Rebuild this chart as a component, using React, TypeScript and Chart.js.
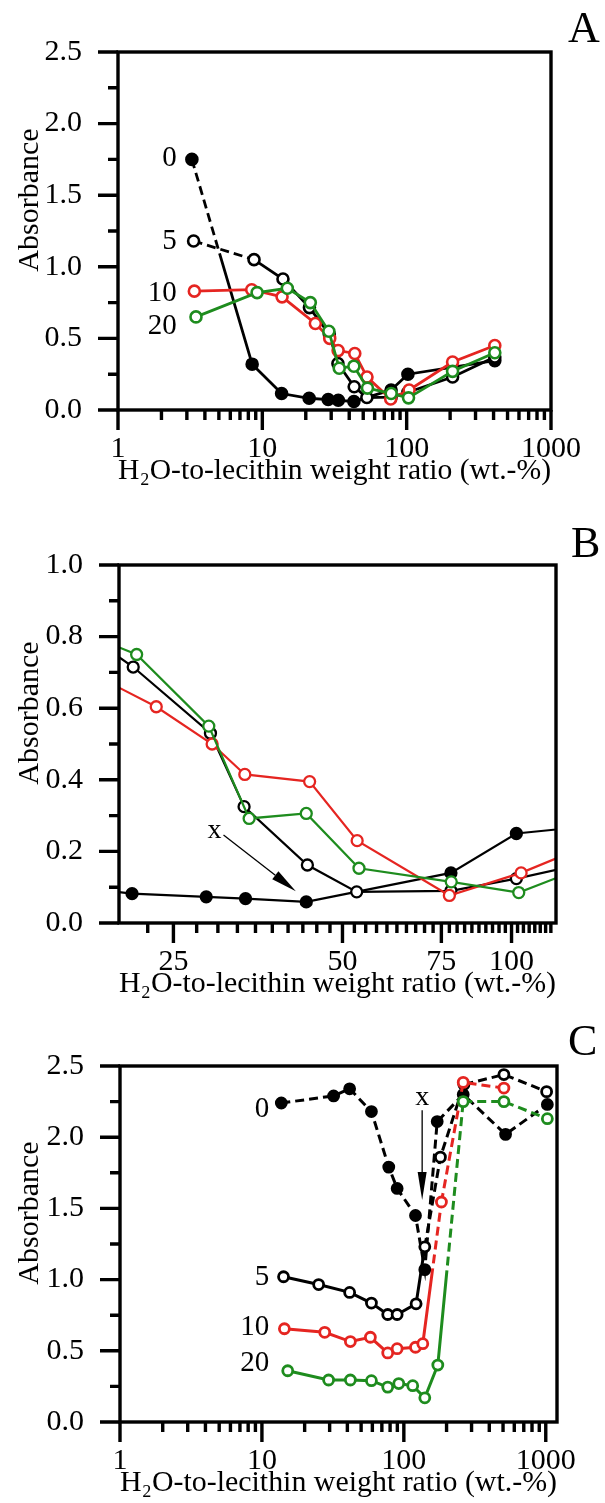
import React, { useEffect, useRef } from 'react';
import { Chart, registerables } from 'chart.js';

Chart.register(...registerables);

const FONT = '"Liberation Serif", "Times New Roman", Times, serif';
const INK = '#000000';
const RED = '#e52521';
const GREEN = '#1e8c1e';

const X_TITLE = 'H\u2082O-to-lecithin weight ratio (wt.-%)';
const Y_TITLE = 'Absorbance';
const SERIES_NAMES = ['0', '5', '10', '20'];

// ---- Panels A and B (B is the 20–120 range of the same measurements) ----
const AB_S0_X = [3.25, 8.5, 13.6, 21.1, 28.6, 33.6, 43.1, 78, 102, 408];
const AB_S0_Y = [1.75, 0.32, 0.115, 0.082, 0.073, 0.068, 0.059, 0.14, 0.25, 0.345];
const AB_S5_X = [3.34, 8.76, 13.9, 21.2, 29.1, 33.4, 43.3, 53, 78, 102, 208, 408];
const AB_S5_Y = [1.18, 1.05, 0.915, 0.715, 0.53, 0.325, 0.162, 0.087, 0.09, 0.124, 0.23, 0.37];
const AB_S10_X = [3.38, 8.44, 13.7, 23.3, 29.3, 33.5, 43.7, 53.1, 77.5, 104, 208, 408];
const AB_S10_Y = [0.83, 0.84, 0.79, 0.604, 0.5, 0.415, 0.395, 0.23, 0.077, 0.14, 0.335, 0.45];
const AB_S20_X = [3.47, 9.2, 14.9, 21.5, 28.9, 34.1, 43.1, 53.5, 78.1, 103, 208, 408];
const AB_S20_Y = [0.65, 0.82, 0.85, 0.75, 0.55, 0.292, 0.306, 0.153, 0.115, 0.085, 0.27, 0.4];

// ---- Panel C ----
const C_S0_X = [13.7, 32.0, 41.5, 59.1, 78.3, 89.7, 120.8, 140.5, 171.8, 262, 521, 1026];
const C_S0_Y = [2.24, 2.29, 2.34, 2.18, 1.79, 1.64, 1.45, 1.07, 2.11, 2.3, 2.02, 2.23];
const C_S5_X = [14.2, 25.1, 41.5, 59.1, 77.0, 89.7, 122, 140.5, 181, 265, 507, 1014];
const C_S5_Y = [1.02, 0.965, 0.91, 0.835, 0.755, 0.755, 0.83, 1.23, 1.86, 2.37, 2.44, 2.32];
const C_S10_X = [14.4, 27.7, 42.0, 58.1, 77.0, 89.7, 120.8, 136, 184, 262, 507];
const C_S10_Y = [0.655, 0.63, 0.565, 0.595, 0.485, 0.515, 0.525, 0.55, 1.545, 2.385, 2.345];
const C_S20_X = [15.2, 29.5, 42.0, 59.1, 77.0, 92.1, 115.5, 140.5, 173.5, 262, 507, 1026];
const C_S20_Y = [0.36, 0.295, 0.295, 0.29, 0.245, 0.27, 0.255, 0.17, 0.4, 2.25, 2.25, 2.13];

// ---- Tick values ----
const LOG_X_MAJOR = [1, 10, 100, 1000];
const LOG_X_MINOR = [2, 3, 4, 5, 6, 7, 8, 9, 20, 30, 40, 50, 60, 70, 80, 90, 200, 300, 400, 500, 600, 700, 800, 900];
const B_X_MAJOR = [25, 50, 75, 100];
const B_X_MINOR = [22.5, 27.5, 30, 32.5, 35, 37.5, 40, 42.5, 45, 47.5, 52.5, 55, 57.5, 60, 62.5, 65, 67.5, 70, 72.5,
  77.5, 80, 82.5, 85, 87.5, 90, 92.5, 95, 97.5, 102.5, 105, 107.5, 110, 112.5, 115, 117.5];
const AC_Y_MAJOR = [0, 0.5, 1.0, 1.5, 2.0, 2.5];
const AC_Y_MINOR = [0.25, 0.75, 1.25, 1.75, 2.25];
const B_Y_MAJOR = [0, 0.2, 0.4, 0.6, 0.8, 1.0];
const B_Y_MINOR = [0.1, 0.3, 0.5, 0.7, 0.9];

// ---- line dash styles ----
const SOLID: number[] = [];
const DASH = [9, 5];
const DASH_THEN_SOLID = [9, 5, 9, 5, 9, 5, 9, 5, 9, 5, 9, 5, 9, 5, 800, 0];
const SOLID_THEN_DASH_R = [76, 5, 9, 5, 9, 5, 9, 5, 9, 5, 9, 5, 9, 5, 9, 5, 9, 5];
const SOLID_THEN_DASH_G = [95, 5, 9, 5, 9, 5, 9, 5, 9, 5, 9, 5, 9, 5, 9, 5, 9, 5, 9, 5, 9, 5, 9, 5, 9, 5, 9, 5, 9, 5, 9, 5, 9, 5];

const zip = (xs: number[], ys: number[]) => xs.map((x, i) => ({ x, y: ys[i] }));

const framePlugin = {
  id: 'frame',
  afterDraw(chart: any, _args: any, opts: any) {
    const { ctx, chartArea: a, scales } = chart;
    const xs = scales.x;
    const ys = scales.y;
    ctx.save();
    // ticks
    ctx.strokeStyle = INK;
    ctx.lineWidth = 3.4;
    ctx.lineCap = 'butt';
    ctx.beginPath();
    for (const v of opts.xMajor) {
      const p = xs.getPixelForValue(v);
      ctx.moveTo(p, a.bottom);
      ctx.lineTo(p, a.bottom + 20);
    }
    for (const v of opts.xMinor) {
      const p = xs.getPixelForValue(v);
      ctx.moveTo(p, a.bottom);
      ctx.lineTo(p, a.bottom + 10);
    }
    for (const v of opts.yMajor) {
      const p = ys.getPixelForValue(v);
      ctx.moveTo(a.left - 20, p);
      ctx.lineTo(a.left, p);
    }
    for (const v of opts.yMinor) {
      const p = ys.getPixelForValue(v);
      ctx.moveTo(a.left - 10, p);
      ctx.lineTo(a.left, p);
    }
    ctx.stroke();
    // box
    ctx.lineJoin = 'miter';
    ctx.strokeRect(a.left, a.top, a.right - a.left, a.bottom - a.top);

    // y title
    ctx.fillStyle = INK;
    ctx.save();
    ctx.translate(38, (a.top + a.bottom) / 2 - 31);
    ctx.rotate(-Math.PI / 2);
    ctx.font = `30px ${FONT}`;
    ctx.textAlign = 'center';
    ctx.textBaseline = 'alphabetic';
    ctx.fillText(Y_TITLE, 0, 0);
    ctx.restore();

    // panel letter
    ctx.font = `44px ${FONT}`;
    ctx.textAlign = 'left';
    ctx.textBaseline = 'alphabetic';
    ctx.fillText(opts.letter, opts.letterX, opts.letterY);

    // series labels
    ctx.font = `29px ${FONT}`;
    ctx.textAlign = 'right';
    ctx.textBaseline = 'middle';
    for (const l of opts.labels) {
      ctx.fillText(l.text, xs.getPixelForValue(l.x), ys.getPixelForValue(l.y));
    }

    // arrow
    if (opts.arrow) {
      const ar = opts.arrow;
      const x0 = xs.getPixelForValue(ar.fromX);
      const y0 = ys.getPixelForValue(ar.fromY);
      const x1 = xs.getPixelForValue(ar.toX);
      const y1 = ys.getPixelForValue(ar.toY);
      const len = Math.hypot(x1 - x0, y1 - y0);
      const ux = (x1 - x0) / len;
      const uy = (y1 - y0) / len;
      const bx = x1 - ux * ar.head;
      const by = y1 - uy * ar.head;
      ctx.lineWidth = 1.3;
      ctx.beginPath();
      ctx.moveTo(x0, y0);
      ctx.lineTo(bx, by);
      ctx.stroke();
      ctx.beginPath();
      ctx.moveTo(x1, y1);
      ctx.lineTo(bx - uy * ar.half, by + ux * ar.half);
      ctx.lineTo(bx + uy * ar.half, by - ux * ar.half);
      ctx.closePath();
      ctx.fill();
      ctx.font = `28px ${FONT}`;
      ctx.textAlign = 'center';
      ctx.textBaseline = 'middle';
      ctx.fillText(ar.text, xs.getPixelForValue(ar.textX), ys.getPixelForValue(ar.textY));
    }
    ctx.restore();
  },
};

type SeriesSpec = {
  name: string;
  xs: number[];
  ys: number[];
  color: string;
  filled: boolean;
  dashDefault: number[];
  dashBySeg: Record<number, number[]>;
};

function buildConfig(p: any) {
  const datasets = p.series.map((s: SeriesSpec) => ({
    label: s.name,
    data: zip(s.xs, s.ys),
    borderColor: s.color,
    borderWidth: p.lineWidth,
    pointRadius: p.pointRadius,
    pointBorderWidth: p.pointBorderWidth,
    pointBorderColor: s.color,
    pointBackgroundColor: s.filled ? s.color : '#ffffff',
    pointStyle: 'circle',
    tension: 0,
    fill: false,
    clip: p.clip,
    segment: {
      borderDash: (ctx: any) => {
        const d = s.dashBySeg[ctx.p0DataIndex];
        return d !== undefined ? d : s.dashDefault;
      },
    },
  }));
  const xh = p.height - p.box.bottom;
  return {
    type: 'line',
    data: { datasets },
    options: {
      responsive: false,
      animation: false,
      events: [],
      layout: { padding: { top: p.box.top, right: 605 - p.box.right, left: 0, bottom: 0 } },
      plugins: {
        legend: { display: false },
        tooltip: { enabled: false },
        frame: p.frame,
      },
      scales: {
        x: {
          type: 'logarithmic',
          position: 'bottom',
          min: p.xMin,
          max: p.xMax,
          grid: { display: false, drawTicks: false },
          border: { display: false },
          afterBuildTicks: (s: any) => {
            s.ticks = p.frame.xMajor.map((v: number) => ({ value: v }));
          },
          ticks: {
            autoSkip: false,
            maxRotation: 0,
            minRotation: 0,
            padding: 24,
            color: INK,
            font: { family: FONT, size: 30, lineHeight: 1 },
            callback: (v: any) => String(v),
          },
          title: {
            display: true,
            text: X_TITLE,
            color: INK,
            font: { family: FONT, size: 30, lineHeight: 1 },
            padding: { top: 0, bottom: xh - 76 },
          },
          afterFit: (s: any) => {
            s.height = xh;
          },
        },
        y: {
          type: 'linear',
          min: p.yMin,
          max: p.yMax,
          grid: { display: false, drawTicks: false },
          border: { display: false },
          afterBuildTicks: (s: any) => {
            s.ticks = p.frame.yMajor.map((v: number) => ({ value: v }));
          },
          ticks: {
            autoSkip: false,
            padding: 36,
            color: INK,
            font: { family: FONT, size: 30, lineHeight: 1 },
            callback: (v: any) => Number(v).toFixed(1),
          },
          afterFit: (s: any) => {
            s.width = p.box.left;
          },
        },
      },
    },
    plugins: [framePlugin],
  };
}

const AB_SERIES = (): SeriesSpec[] => [
  { name: SERIES_NAMES[3], xs: AB_S20_X, ys: AB_S20_Y, color: GREEN, filled: false, dashDefault: SOLID, dashBySeg: {} },
  { name: SERIES_NAMES[2], xs: AB_S10_X, ys: AB_S10_Y, color: RED, filled: false, dashDefault: SOLID, dashBySeg: {} },
  { name: SERIES_NAMES[1], xs: AB_S5_X, ys: AB_S5_Y, color: INK, filled: false, dashDefault: SOLID, dashBySeg: { 0: DASH } },
  { name: SERIES_NAMES[0], xs: AB_S0_X, ys: AB_S0_Y, color: INK, filled: true, dashDefault: SOLID, dashBySeg: { 0: DASH_THEN_SOLID } },
];

const C_SERIES = (): SeriesSpec[] => [
  { name: SERIES_NAMES[3], xs: C_S20_X, ys: C_S20_Y, color: GREEN, filled: false, dashDefault: SOLID, dashBySeg: { 8: SOLID_THEN_DASH_G, 9: DASH, 10: DASH } },
  { name: SERIES_NAMES[2], xs: C_S10_X, ys: C_S10_Y, color: RED, filled: false, dashDefault: SOLID, dashBySeg: { 7: SOLID_THEN_DASH_R, 8: DASH, 9: DASH } },
  { name: SERIES_NAMES[1], xs: C_S5_X, ys: C_S5_Y, color: INK, filled: false, dashDefault: SOLID, dashBySeg: { 7: DASH, 8: DASH, 9: DASH, 10: DASH } },
  { name: SERIES_NAMES[0], xs: C_S0_X, ys: C_S0_Y, color: INK, filled: true, dashDefault: DASH, dashBySeg: {} },
];

const PANELS = [
  {
    key: 'A', top: 0, height: 500,
    box: { top: 52, bottom: 410, left: 118, right: 555 },
    xMin: 1, xMax: 1000, yMin: 0, yMax: 2.5,
    lineWidth: 2.8, pointRadius: 5.5, pointBorderWidth: 2.6, clip: 3,
    series: AB_SERIES(),
    frame: {
      letter: 'A', letterX: 568, letterY: 42,
      xMajor: LOG_X_MAJOR, xMinor: LOG_X_MINOR, yMajor: AC_Y_MAJOR, yMinor: AC_Y_MINOR,
      labels: [
        { text: SERIES_NAMES[0], x: 2.55, y: 1.76 },
        { text: SERIES_NAMES[1], x: 2.55, y: 1.175 },
        { text: SERIES_NAMES[2], x: 2.55, y: 0.817 },
        { text: SERIES_NAMES[3], x: 2.55, y: 0.587 },
      ],
      arrow: null,
    },
  },
  {
    key: 'B', top: 500, height: 500,
    box: { top: 65, bottom: 423, left: 119, right: 556 },
    xMin: 20, xMax: 120, yMin: 0, yMax: 1,
    lineWidth: 2.2, pointRadius: 5.5, pointBorderWidth: 2.3, clip: 0,
    series: AB_SERIES(),
    frame: {
      letter: 'B', letterX: 571, letterY: 57,
      xMajor: B_X_MAJOR, xMinor: B_X_MINOR, yMajor: B_Y_MAJOR, yMinor: B_Y_MINOR,
      labels: [],
      arrow: { text: 'x', textX: 29.6, textY: 0.257, fromX: 30.7, fromY: 0.246, toX: 41.3, toY: 0.089, head: 26, half: 5 },
    },
  },
  {
    key: 'C', top: 1000, height: 503,
    box: { top: 66, bottom: 422, left: 120, right: 557 },
    xMin: 1, xMax: 1200, yMin: 0, yMax: 2.5,
    lineWidth: 3, pointRadius: 5, pointBorderWidth: 2.8, clip: 3,
    series: C_SERIES(),
    frame: {
      letter: 'C', letterX: 568, letterY: 55,
      xMajor: LOG_X_MAJOR, xMinor: LOG_X_MINOR, yMajor: AC_Y_MAJOR, yMinor: AC_Y_MINOR,
      labels: [
        { text: SERIES_NAMES[0], x: 11.26, y: 2.198 },
        { text: SERIES_NAMES[1], x: 11.26, y: 1.018 },
        { text: SERIES_NAMES[2], x: 11.26, y: 0.667 },
        { text: SERIES_NAMES[3], x: 11.26, y: 0.414 },
      ],
      arrow: { text: 'x', textX: 134.6, textY: 2.275, fromX: 134.6, fromY: 2.19, toX: 134.6, toY: 1.559, head: 28, half: 4.5 },
    },
  },
];

function Panel({ spec }: { spec: any }) {
  const ref = useRef<HTMLCanvasElement | null>(null);
  useEffect(() => {
    if (!ref.current) return;
    const chart = new Chart(ref.current, buildConfig(spec) as any);
    return () => chart.destroy();
  }, [spec]);
  return (
    <canvas
      ref={ref}
      width={605}
      height={spec.height}
      style={{ position: 'absolute', left: 0, top: spec.top, width: 605, height: spec.height, display: 'block' }}
    />
  );
}

export default function App() {
  return (
    <div style={{ position: 'absolute', left: 0, top: 0, width: 605, height: 1503, background: '#ffffff', overflow: 'hidden' }}>
      {PANELS.map((p) => (
        <Panel key={p.key} spec={p} />
      ))}
    </div>
  );
}
